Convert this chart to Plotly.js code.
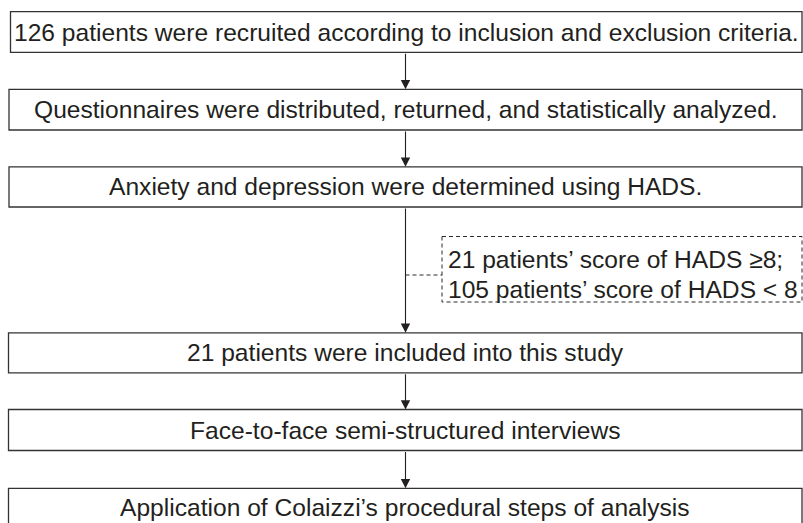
<!DOCTYPE html>
<html>
<head>
<meta charset="utf-8">
<script src="https://cdn.plot.ly/plotly-3.0.1.min.js"></script>
<style>html,body{margin:0;padding:0;background:#fff;}#chart{width:803px;height:523px;}</style>
</head>
<body>
<div id="chart"></div>
<script>
// Content
const steps = [
  "126 patients were recruited according to inclusion and exclusion criteria.",
  "Questionnaires were distributed, returned, and statistically analyzed.",
  "Anxiety and depression were determined using HADS.",
  "21 patients were included into this study",
  "Face-to-face semi-structured interviews",
  "Application of Colaizzi\u2019s procedural steps of analysis"
];
const noteLines = [
  "21 patients\u2019 score of HADS \u22658;",
  "105 patients\u2019 score of HADS < 8"
];

// Layout geometry (pixels in a 803x523 coordinate frame)
const boxLeft = [10.5, 9, 9, 8.5, 8.5, 8.5];
const boxRight = [802, 802, 802, 802, 802, 802];
const boxTop = [11.7, 89.3, 166.8, 332.8, 409.5, 488.3];
const boxBottom = [52.3, 130, 207, 372.8, 450.5, 527];
const arrowX = 405.5;
const noteBox = {x0: 442, x1: 802, y0: 236.5, y1: 302};
const noteY = [259, 289];
const noteX = 446;
const connectorY = 275;

const ink = "#231f20";
const font = {family: "Liberation Sans, Arial, sans-serif", size: 24.6, color: ink};

const shapes = [];
const annotations = [];

steps.forEach((t, i) => {
  shapes.push({type: "rect", xref: "x", yref: "y",
    x0: boxLeft[i], x1: boxRight[i], y0: boxTop[i], y1: boxBottom[i],
    line: {color: "#333333", width: 1.3}, fillcolor: "rgba(0,0,0,0)"});
  annotations.push({xref: "x", yref: "y", x: (boxLeft[i] + boxRight[i]) / 2,
    y: (boxTop[i] + boxBottom[i]) / 2, text: t, showarrow: false,
    xanchor: "center", yanchor: "middle", font: font});
  if (i < steps.length - 1) {
    annotations.push({xref: "x", yref: "y", axref: "x", ayref: "y",
      x: arrowX, y: boxTop[i + 1], ax: arrowX, ay: boxBottom[i],
      text: "", showarrow: true, arrowhead: 2, arrowsize: 1.7, arrowwidth: 1.1,
      arrowcolor: ink, standoff: 0, startstandoff: 0});
  }
});

// Dashed note box and connector
shapes.push({type: "rect", xref: "x", yref: "y",
  x0: noteBox.x0, x1: noteBox.x1, y0: noteBox.y0, y1: noteBox.y1,
  line: {color: "#2a2a2a", width: 1, dash: "4px,3px"}, fillcolor: "rgba(0,0,0,0)"});
shapes.push({type: "line", xref: "x", yref: "y",
  x0: arrowX, x1: noteBox.x0, y0: connectorY, y1: connectorY,
  line: {color: "#2a2a2a", width: 1, dash: "4px,3px"}});
noteLines.forEach((t, i) => {
  annotations.push({xref: "x", yref: "y", x: noteX, y: noteY[i], text: t,
    showarrow: false, xanchor: "left", yanchor: "middle", font: font});
});

const layout = {
  width: 803, height: 523,
  margin: {l: 0, r: 0, t: 0, b: 0},
  paper_bgcolor: "#ffffff", plot_bgcolor: "#ffffff",
  xaxis: {range: [0, 803], visible: false, fixedrange: true},
  yaxis: {range: [523, 0], visible: false, fixedrange: true},
  showlegend: false,
  shapes: shapes,
  annotations: annotations
};

Plotly.newPlot("chart", [{x: [], y: [], type: "scatter", hoverinfo: "skip"}], layout,
  {displayModeBar: false, staticPlot: true});
</script>
</body>
</html>
